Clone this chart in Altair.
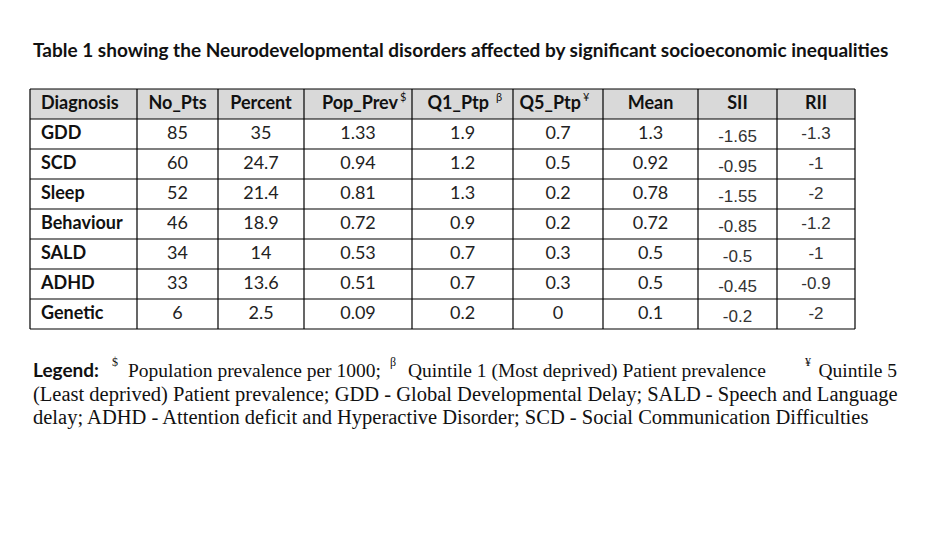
import altair as alt
import pandas as pd

# ---- data ----
title_text = "Table 1 showing the Neurodevelopmental disorders affected by significant socioeconomic inequalities"
headers = ["Diagnosis", "No_Pts", "Percent", "Pop_Prev", "Q1_Ptp", "Q5_Ptp", "Mean", "SII", "RII"]
header_sup = ["", "", "", "$", "β", "¥", "", "", ""]
diagnosis = ["GDD", "SCD", "Sleep", "Behaviour", "SALD", "ADHD", "Genetic"]
no_pts = [85, 60, 52, 46, 34, 33, 6]
percent = [35, 24.7, 21.4, 18.9, 14, 13.6, 2.5]
pop_prev = [1.33, 0.94, 0.81, 0.72, 0.53, 0.51, 0.09]
q1_ptp = [1.9, 1.2, 1.3, 0.9, 0.7, 0.7, 0.2]
q5_ptp = [0.7, 0.5, 0.2, 0.2, 0.3, 0.3, 0]
mean = [1.3, 0.92, 0.78, 0.72, 0.5, 0.5, 0.1]
sii = [-1.65, -0.95, -1.55, -0.85, -0.5, -0.45, -0.2]
rii = [-1.3, -1, -2, -1.2, -1, -0.9, -2]

legend_label = "Legend:"
legend_lines = [
    ["Population prevalence per 1000;", "Quintile 1 (Most deprived) Patient prevalence", "Quintile 5"],
    ["(Least deprived) Patient prevalence;  GDD - Global Developmental Delay; SALD - Speech and Language"],
    ["delay; ADHD - Attention deficit and Hyperactive Disorder; SCD - Social Communication Difficulties"],
]
legend_sups = ["$", "β", "¥"]

# ---- layout (pixel positions in the page) ----
col_edges = [30, 137, 218, 304, 412, 513, 603, 698, 777, 855]
table_top = 89
row_h = 30
n_rows = len(diagnosis) + 1
hdr_end_x = [None, None, None, 398, 489, 581, None, None, None]
sup_x = [None, None, None, 400, 496, 583, None, None, None]

W, H = 919, 524
xs = alt.Scale(domain=[8, 8 + W], range=[0, W])
ys = alt.Scale(domain=[8, 8 + H], reverse=True)


def fmt(v):
    return f"{v:g}"


columns = [diagnosis, no_pts, percent, pop_prev, q1_ptp, q5_ptp, mean, sii, rii]

cells = []
for j, col in enumerate(columns):
    cx = (col_edges[j] + col_edges[j + 1]) / 2
    for i, v in enumerate(col):
        yc = table_top + row_h * (i + 1) + row_h / 2
        grp = ["diag", "num", "num", "num", "num", "num", "num", "sii", "rii"][j]
        cells.append({"x": 41 if j == 0 else cx, "y": yc, "t": v if j == 0 else fmt(v), "g": grp})
cells = pd.DataFrame(cells)

hdr = []
for j, h in enumerate(headers):
    cx = (col_edges[j] + col_edges[j + 1]) / 2
    if j == 0:
        a, hx = "left", 41
    elif header_sup[j]:
        a, hx = "right", hdr_end_x[j]
    else:
        a, hx = "center", cx
    hdr.append({"x": hx, "y": table_top + row_h / 2, "t": h, "a": a})
hdr = pd.DataFrame(hdr)
sups = pd.DataFrame([
    {"x": sup_x[j], "y": table_top + 9, "t": s} for j, s in enumerate(header_sup) if s
])

hlines = pd.DataFrame([
    {"x": col_edges[0], "x2": col_edges[-1], "y": table_top + row_h * k}
    for k in range(n_rows + 1)
])
vlines = pd.DataFrame([
    {"x": e, "y": table_top, "y2": table_top + row_h * n_rows} for e in col_edges
])
hdr_bg = pd.DataFrame([{"x": col_edges[0], "x2": col_edges[-1], "y": table_top, "y2": table_top + row_h}])

X = lambda f="x": alt.X(f"{f}:Q", scale=xs, axis=None)
Y = lambda f="y": alt.Y(f"{f}:Q", scale=ys, axis=None)

bg = alt.Chart(hdr_bg).mark_rect(fill="#d9d9d9").encode(
    x=X(), x2="x2:Q", y=Y(), y2="y2:Q")
hr = alt.Chart(hlines).mark_rule(color="#000", strokeWidth=1.2).encode(x=X(), x2="x2:Q", y=Y())
vr = alt.Chart(vlines).mark_rule(color="#000", strokeWidth=1.2).encode(x=X(), y=Y(), y2="y2:Q")

hdr_layers = [
    alt.Chart(hdr[hdr.a == a]).mark_text(
        font="Lato", fontWeight="bold", fontSize=18, align=a, baseline="middle", color="#111"
    ).encode(x=X(), y=Y(), text="t:N")
    for a in ["left", "center", "right"]
]
hdr_sup = alt.Chart(sups).mark_text(
    font="Lato", fontSize=11, align="left", baseline="middle", color="#111"
).encode(x=X(), y=Y(), text="t:N")

diag_t = alt.Chart(cells[cells.g == "diag"]).mark_text(
    font="Lato", fontWeight="bold", fontSize=18, align="left", baseline="middle", color="#111"
).encode(x=X(), y=Y(), text="t:N")
num_t = alt.Chart(cells[cells.g == "num"]).mark_text(
    font="Lato", fontSize=18, align="center", baseline="middle", color="#222"
).encode(x=X(), y=Y(), text="t:N")
sii_t = alt.Chart(cells[cells.g == "sii"]).mark_text(
    font="Liberation Sans", fontSize=17, align="center", baseline="middle", color="#333", dy=3
).encode(x=X(), y=Y(), text="t:N")
rii_t = alt.Chart(cells[cells.g == "rii"]).mark_text(
    font="Liberation Sans", fontSize=17, align="center", baseline="middle", color="#333", dy=0
).encode(x=X(), y=Y(), text="t:N")

title_df = pd.DataFrame([{"x": 33, "y": 51, "t": title_text}])
title = alt.Chart(title_df).mark_text(
    font="Lato", fontWeight="bold", fontSize=19, align="left", baseline="middle", color="#111"
).encode(x=X(), y=Y(), text="t:N")

# legend
leg1_df = pd.DataFrame([
    {"x": 128, "y": 371, "t": legend_lines[0][0], "a": "left"},
    {"x": 408, "y": 371, "t": legend_lines[0][1], "a": "left"},
    {"x": 897, "y": 371, "t": legend_lines[0][2], "a": "right"},
])
leg23_df = pd.DataFrame([
    {"x": 33, "y": 395, "t": legend_lines[1][0]},
    {"x": 33, "y": 418, "t": legend_lines[2][0]},
])
leg_text = [
    alt.Chart(leg1_df[leg1_df.a == a]).mark_text(
        font="Liberation Serif", fontSize=19.5, align=a, baseline="middle", color="#111"
    ).encode(x=X(), y=Y(), text="t:N")
    for a in ["left", "right"]
] + [
    alt.Chart(leg23_df).mark_text(
        font="Liberation Serif", fontSize=20.5, align="left", baseline="middle", color="#111"
    ).encode(x=X(), y=Y(), text="t:N")
]
leg_sup_df = pd.DataFrame([
    {"x": 112, "y": 362, "t": legend_sups[0]},
    {"x": 390, "y": 362, "t": legend_sups[1]},
    {"x": 805, "y": 362, "t": legend_sups[2]},
])
leg_sup = alt.Chart(leg_sup_df).mark_text(
    font="Liberation Serif", fontSize=12, align="left", baseline="middle", color="#111"
).encode(x=X(), y=Y(), text="t:N")
leg_lab = alt.Chart(pd.DataFrame([{"x": 33, "y": 371, "t": legend_label}])).mark_text(
    font="Lato", fontWeight="bold", fontSize=19, align="left", baseline="middle", color="#111"
).encode(x=X(), y=Y(), text="t:N")

chart = alt.layer(
    bg, hr, vr, *hdr_layers, hdr_sup, diag_t, num_t, sii_t, rii_t, title, *leg_text, leg_sup, leg_lab
).properties(
    width=W, height=H, padding=0, autosize=alt.AutoSizeParams(type="none"), background="white"
).configure_view(stroke=None)

chart.save("out.html", embed_options={"renderer": "svg", "actions": False})
